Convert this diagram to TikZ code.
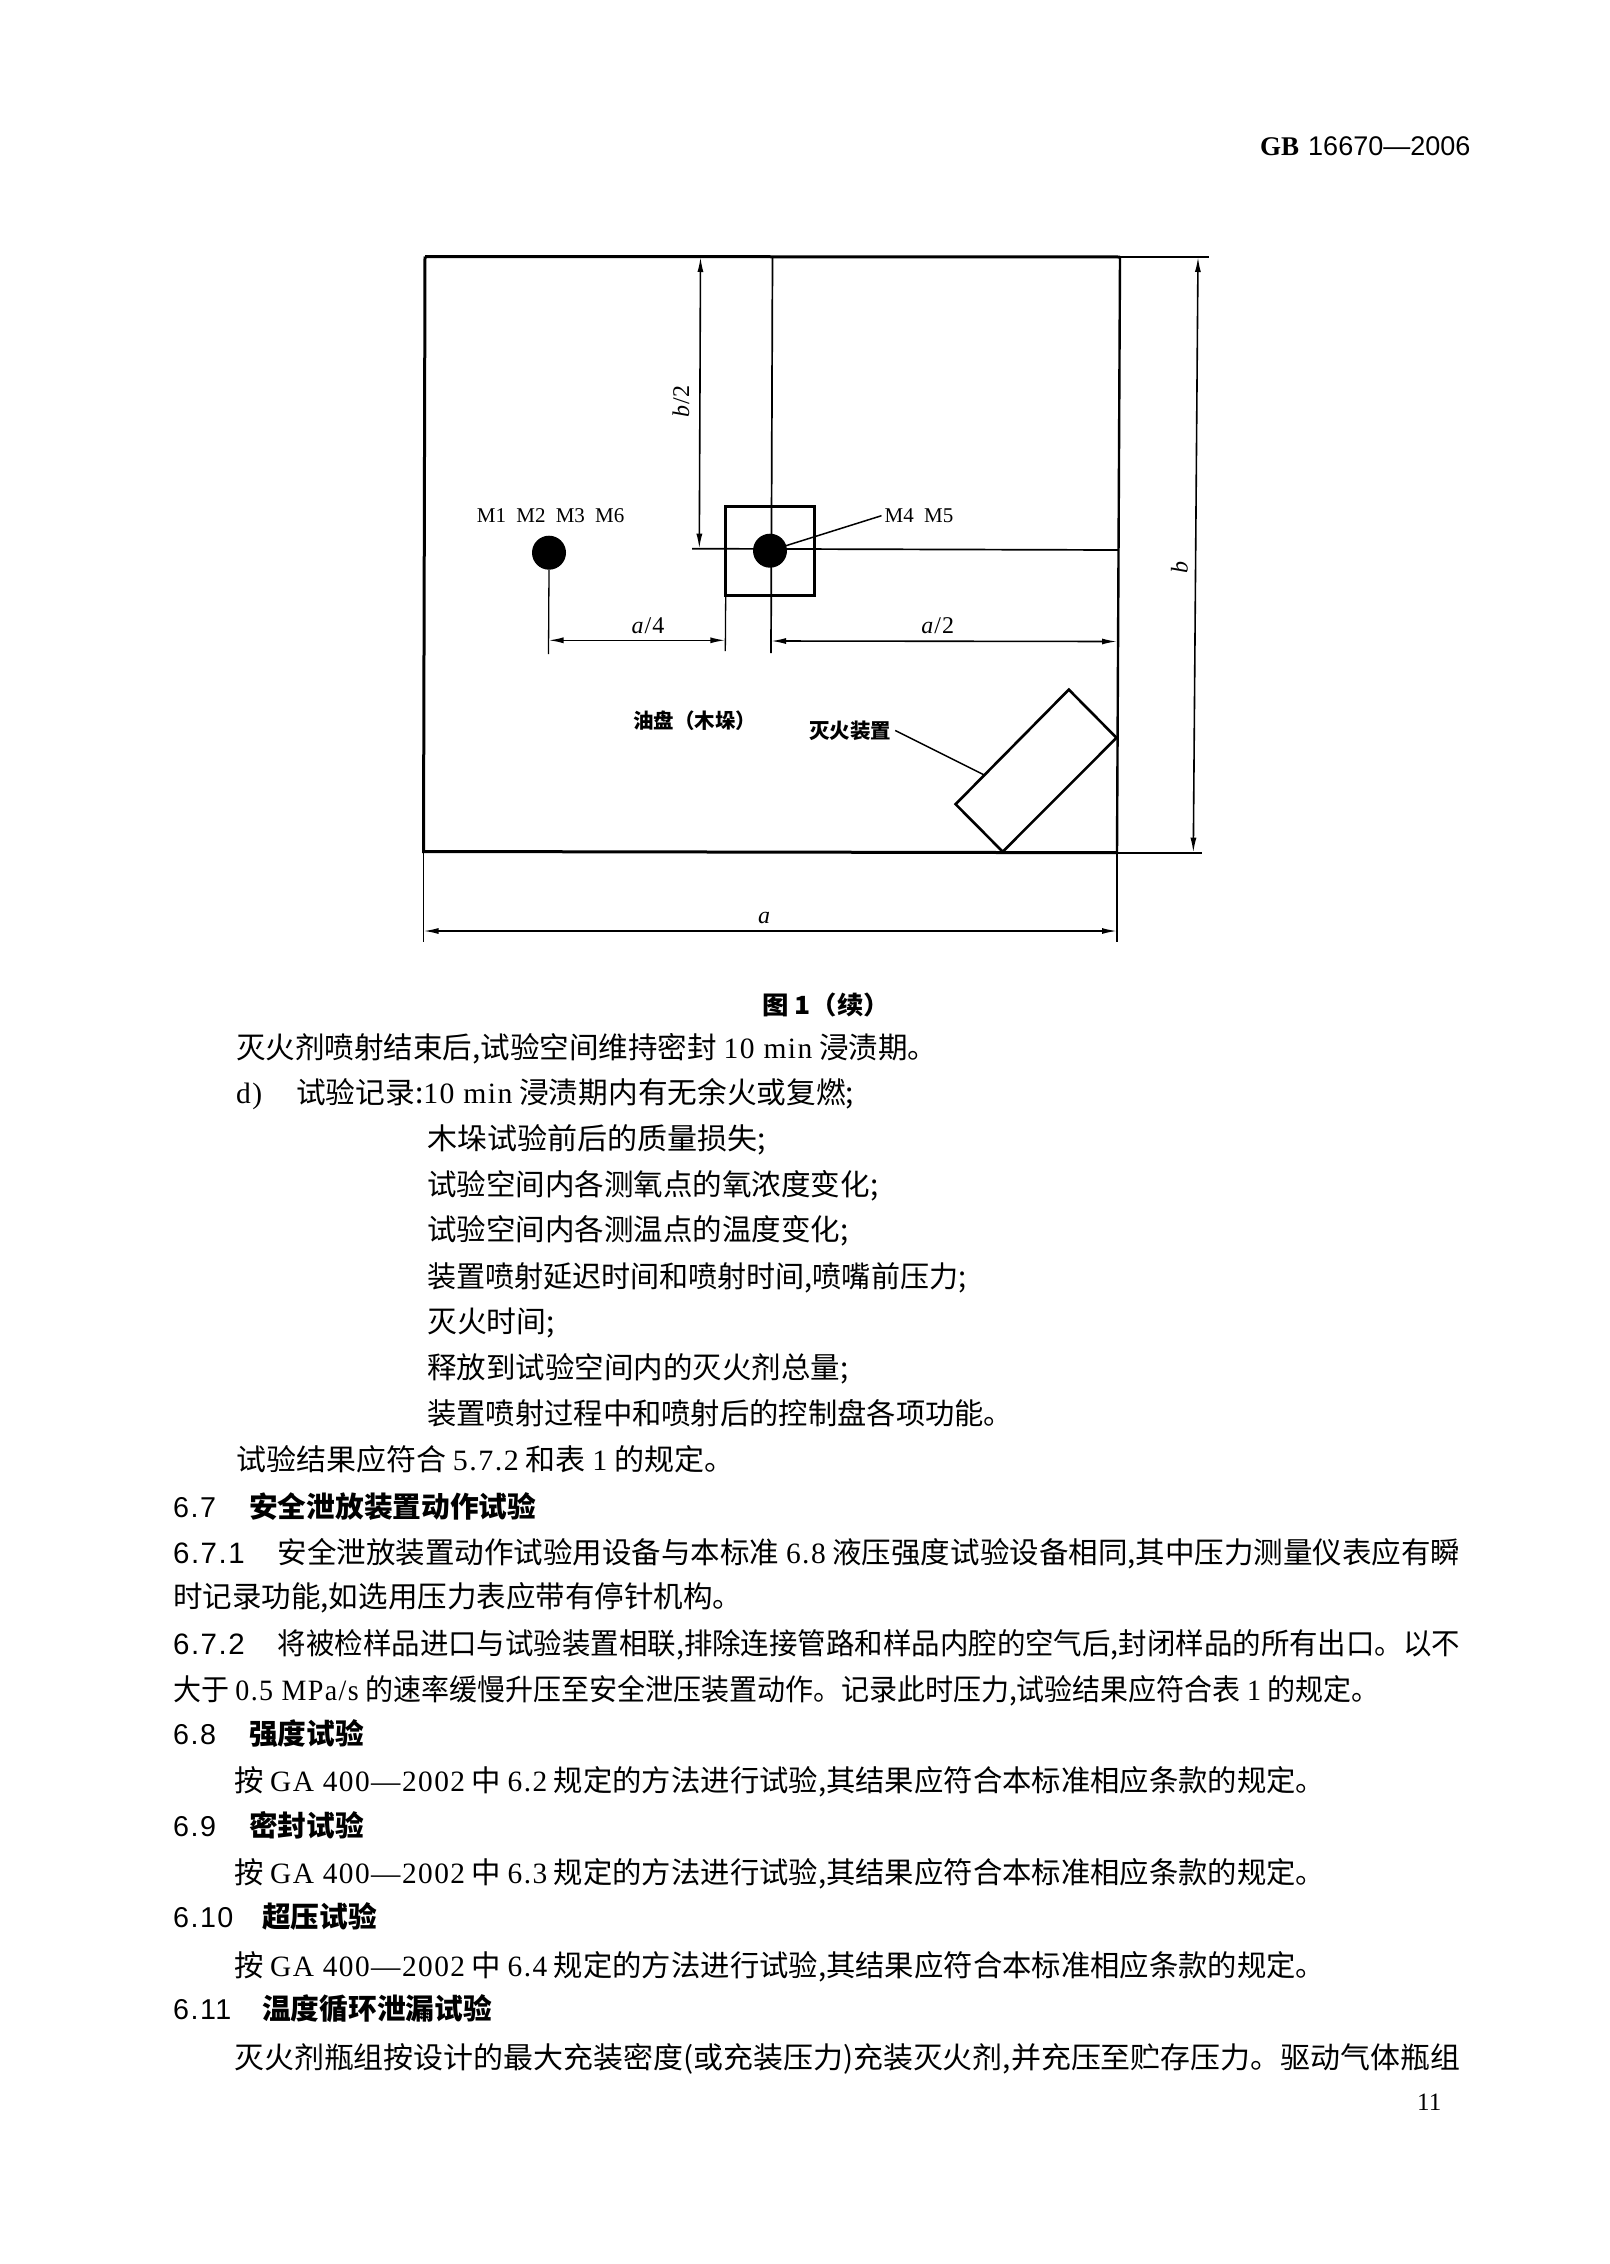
\documentclass[tikz,border=0pt]{standalone}
\usepackage{fontspec}
\usepackage{graphicx}
\setmainfont{Noto Sans CJK SC}
\newfontfamily\latin{Liberation Serif}
\newfontfamily\latinsp[LetterSpace=5]{Liberation Serif}
\newfontfamily\numsans[LetterSpace=5]{Liberation Sans}
\newcommand{\lat}[1]{{\latinsp #1}}
\newcommand{\secno}[2]{\makebox[#1pt][l]{\numsans\mdseries #2}}
\newcommand{\fitw}[2]{\resizebox{#1pt}{\height}{#2}}
\usetikzlibrary{arrows.meta}

\tikzset{thick_line/.style={line width=3pt, line join=miter}}
\tikzset{thin_line/.style={line width=1.7pt}}
\tikzset{dim_line/.style={line width=1.6pt, <->, >={Latex[length=15pt,width=6pt]}}}
\tikzset{meas_point/.style={inner sep=0pt, outer sep=0pt, circle, fill=black, minimum size=34pt}}
\tikzset{fig_label/.style={inner sep=3pt, font=\fontsize{21}{21}\selectfont\latin}}
\tikzset{dim_label/.style={inner sep=0pt, font=\fontsize{24}{24}\selectfont\latin}}
\tikzset{zh_label/.style={inner sep=4pt, font=\fontsize{20.5}{21}\selectfont\bfseries}}
\tikzset{body_line/.style={inner sep=0pt, anchor=base west, font=\fontsize{29.5}{30}\selectfont}}
\tikzset{head_line/.style={inner sep=0pt, anchor=base west, font=\fontsize{28.7}{30}\selectfont\bfseries}}

\begin{document}
\begin{tikzpicture}[x=1pt,y=-1pt]
    \fill[white] (0,0) rectangle (1609,2264);
    \useasboundingbox (0,0) rectangle (1609,2264);

    % room outline and dimension ends
    \coordinate (tl) at (425,256.5);
    \coordinate (tr) at (1120,257);
    \coordinate (br) at (1117,852.7);
    \coordinate (bl) at (423.5,851.5);
    \coordinate (c_top) at (772.5,257);
    \coordinate (c_end) at (771,653);
    \coordinate (h_start) at (692,548.7);
    \coordinate (h_end) at (1118,550);
    \coordinate (b2_top) at (700.5,257);
    \coordinate (b2_end) at (699.3,548.7);
    \coordinate (d1_l) at (548.5,640.3);
    \coordinate (d1_r) at (725.3,640.3);
    \coordinate (d2_l) at (771,641);
    \coordinate (d2_r) at (1117,641.5);
    \coordinate (a_l) at (423.5,931);
    \coordinate (a_r) at (1117,931);
    \coordinate (b_t) at (1198,257);
    \coordinate (b_b) at (1193.3,852.7);

    \draw[thick_line] (tl)--(tr);
    \draw[thick_line] (tl)--(bl)--(br);
    \draw[line width=2.4pt] (tr)--(br);

    % inner square and device
    \coordinate (sq_tl) at (725.7,506.7);
    \coordinate (sq_br) at (814.6,595.3);
    \draw[thick_line] (sq_tl) rectangle (sq_br);
    \coordinate (dev_t) at (1068.8,689.6);
    \coordinate (dev_r) at (1116.5,737.8);
    \coordinate (dev_b) at (1002.7,851.7);
    \coordinate (dev_l) at (955.6,804.2);
    \draw[line width=2.6pt] (dev_t)--(dev_r)--(dev_b)--(dev_l)--cycle;
    \coordinate (dev_tap) at (984.3,775);

    % centre lines
    \draw[thin_line] (c_top)--(c_end);
    \draw[thin_line] (h_start)--(h_end);
    \node[meas_point] (pt_left) at (549,552.7) {};
    \node[meas_point] (pt_mid) at (770,550.7) {};

    % witness lines
    \draw[line width=1.3pt] (pt_left.south)--(548.5,654);
    \draw[line width=1.3pt] (725.7,595.3)--(725.3,651);
    \draw[line width=1.3pt] (bl)--(423.5,942);
    \draw[line width=1.6pt] (br)--(1117,942);
    \draw[line width=1.5pt] (tr)--(1209,257);
    \draw[line width=1.7pt] (br)--(1202,852.7);

    % dimensions
    \draw[dim_line] (d1_l)--(d1_r);
    \draw[dim_line] (d2_l)--(d2_r);
    \draw[dim_line] (a_l)--(a_r);
    \draw[dim_line] (b2_top)--(b2_end);
    \draw[dim_line] (b_t)--(b_b);
    \node[dim_label] (lbl_a4) at (648,625.7) {\textit{a}\kern1pt/\kern1pt 4};
    \node[dim_label] (lbl_a2) at (937.7,625.7) {\textit{a}\kern1pt/\kern1pt 2};
    \node[dim_label] (lbl_a) at (764,918) {\textit{a}};
    \node[dim_label,rotate=90] (lbl_b2) at (680.8,401.4) {\textit{b}\kern1pt/\kern1pt 2};
    \node[dim_label,rotate=90] (lbl_b) at (1179.4,567.5) {\textit{b}};

    % labels
    \node[fig_label] (lbl_m1) at (550.7,515.7) {M1\hspace{5pt} M2\hspace{5pt} M3\hspace{5pt} M6};
    \node[fig_label] (lbl_m4) at (919,515.7) {M4\hspace{5pt} M5};
    \draw[line width=1.5pt] (pt_mid.center)--(lbl_m4.west);
    \node[zh_label] (lbl_pan) at (694.8,721) {油盘（木垛）};
    \node[zh_label] (lbl_dev) at (850,730.5) {灭火装置};
    \draw[line width=1.5pt] (lbl_dev.east)--(dev_tap);

    % page text
    \node[inner sep=0pt, anchor=base west] (hdr) at (1260,156) {{\fontsize{27}{30}\selectfont\latin\bfseries GB}\hspace{9pt}{\fontsize{27}{30}\selectfont\fontspec{Liberation Sans} 16670—2006}};
    \node[inner sep=0pt] (cap) at (826,1005) {\fitw{128}{\fontsize{25}{30}\selectfont\bfseries 图 1（续）}};

    \node[body_line] (l01) at (236,1058) {\fitw{701}{灭火剂喷射结束后,试验空间维持密封 \lat{10 min} 浸渍期。}};
    \node[body_line] (l02) at (236,1103) {\makebox[60pt][l]{\lat{d)}}\fitw{558}{试验记录:\lat{10 min} 浸渍期内有无余火或复燃;}};
    \node[body_line] (l03) at (427,1149) {\fitw{339}{木垛试验前后的质量损失;}};
    \node[body_line] (l04) at (427,1195) {\fitw{451}{试验空间内各测氧点的氧浓度变化;}};
    \node[body_line] (l05) at (427,1240) {\fitw{421}{试验空间内各测温点的温度变化;}};
    \node[body_line] (l06) at (427,1287) {\fitw{539}{装置喷射延迟时间和喷射时间,喷嘴前压力;}};
    \node[body_line] (l07) at (427,1332) {\fitw{127.7}{灭火时间;}};
    \node[body_line] (l08) at (427,1378) {\fitw{421}{释放到试验空间内的灭火剂总量;}};
    \node[body_line] (l09) at (427,1424) {\fitw{586}{装置喷射过程中和喷射后的控制盘各项功能。}};
    \node[body_line] (l10) at (236,1470) {\fitw{498}{试验结果应符合 \lat{5.7.2} 和表 \lat{1} 的规定。}};
    \node[head_line] (l11) at (173,1517) {\secno{76}{6.7}安全泄放装置动作试验};
    \node[body_line] (l12) at (173,1563) {\secno{104.6}{6.7.1}\fitw{1182.4}{安全泄放装置动作试验用设备与本标准 \lat{6.8} 液压强度试验设备相同,其中压力测量仪表应有瞬}};
    \node[body_line] (l13) at (173,1607) {\fitw{569}{时记录功能,如选用压力表应带有停针机构。}};
    \node[body_line] (l14) at (173,1654) {\secno{104.6}{6.7.2}\fitw{1182.4}{将被检样品进口与试验装置相联,排除连接管路和样品内腔的空气后,封闭样品的所有出口。以不}};
    \node[body_line] (l15) at (173,1700) {\fitw{1206}{大于 \lat{0.5 MPa/s} 的速率缓慢升压至安全泄压装置动作。记录此时压力,试验结果应符合表 \lat{1} 的规定。}};
    \node[head_line] (l16) at (173,1744) {\secno{76}{6.8}强度试验};
    \node[body_line] (l17) at (234,1791) {\fitw{1091}{按 \lat{GA 400—2002} 中 \lat{6.2} 规定的方法进行试验,其结果应符合本标准相应条款的规定。}};
    \node[head_line] (l18) at (173,1836) {\secno{76}{6.9}密封试验};
    \node[body_line] (l19) at (234,1883) {\fitw{1091}{按 \lat{GA 400—2002} 中 \lat{6.3} 规定的方法进行试验,其结果应符合本标准相应条款的规定。}};
    \node[head_line] (l20) at (173,1927) {\secno{89}{6.10}超压试验};
    \node[body_line] (l21) at (234,1976) {\fitw{1091}{按 \lat{GA 400—2002} 中 \lat{6.4} 规定的方法进行试验,其结果应符合本标准相应条款的规定。}};
    \node[head_line] (l22) at (173,2019) {\secno{89}{6.11}温度循环泄漏试验};
    \node[body_line] (l23) at (234,2068) {\fitw{1226}{灭火剂瓶组按设计的最大充装密度(或充装压力)充装灭火剂,并充压至贮存压力。驱动气体瓶组}};
    \node[inner sep=0pt, anchor=base west, font=\fontsize{25}{30}\selectfont\latin] (pg) at (1417,2110) {11};
  \end{tikzpicture}
\end{document}
